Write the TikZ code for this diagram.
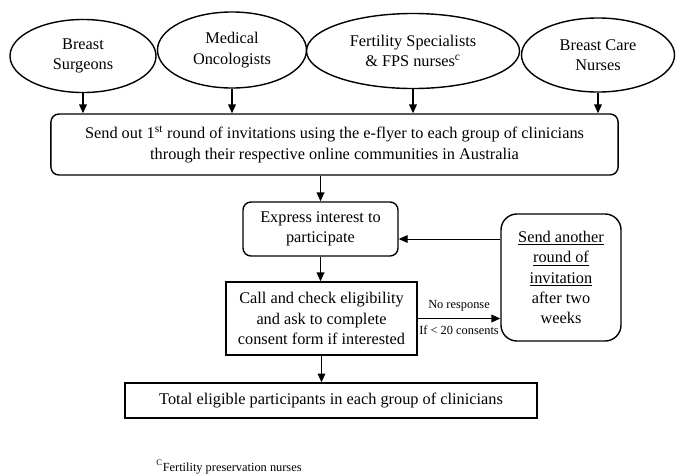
\documentclass[tikz,border=0pt]{standalone}
\usepackage{fontspec}
\setmainfont{Liberation Serif}
\usepackage{tikz}
\usetikzlibrary{arrows.meta, shapes.geometric}

\begin{document}
\begin{tikzpicture}[x=0.025cm, y=-0.025cm,
		every node/.style={font=\fontsize{11.6}{14.4}\selectfont, align=center, inner sep=0pt},
		group/.style={ellipse, draw=black, line width=1pt},
		stepbox/.style={rectangle, draw=black, line width=1pt},
		roundbox/.style={stepbox, rounded corners=0.2cm},
		flow/.style={-{Triangle[length=2.2mm, width=1.9mm]}, line width=1pt},
		small/.style={font=\fontsize{8.8}{10}\selectfont}]
			\useasboundingbox (0,0) rectangle (681,475);
			% Nodes
			\node[group, minimum width=3.65cm, minimum height=1.825cm] (bs) at (83,56) {Breast\\Surgeons};
			\node[group, minimum width=3.725cm, minimum height=1.9cm] (mo) at (232,50) {Medical\\Oncologists};
			\node[group, minimum width=5.325cm, minimum height=1.875cm] (fs) at (413,51) {Fertility Specialists\\\& FPS nurses\textsuperscript{c}};
			\node[group, minimum width=3.825cm, minimum height=1.85cm] (bc) at (598,55) {Breast Care\\Nurses};
			
			\node[roundbox, minimum width=14.175cm, minimum height=1.525cm] (send) at (334.5,144.5) {Send out 1\textsuperscript{st} round of invitations using the e-flyer to each group of clinicians\\through their respective online communities in Australia};
			\node[roundbox, minimum width=3.875cm, minimum height=1.35cm] (express) at (320.5,229) {Express interest to\\participate};
			\node[stepbox, minimum width=4.775cm, minimum height=1.825cm] (call) at (321.5,318.5) {Call and check eligibility\\and ask to complete\\consent form if interested};
			\node[roundbox, rounded corners=0.4cm, minimum width=3cm, minimum height=3.175cm] (again) at (561,277.5) {\underline{Send another}\\\underline{round of}\\\underline{invitation}\\after two\\weeks};
			\node[stepbox, minimum width=10.3cm, minimum height=0.875cm] (total) at (331,400.5) {Total eligible participants in each group of clinicians};
			
			\node[small, anchor=west] (note) at (156,467) {\textsuperscript{C}Fertility preservation nurses};
			
			% Edges
			\draw[flow] (bs.south) -- (bs.south |- send.north);
			\draw[flow] (mo.south) -- (mo.south |- send.north);
			\draw[flow] (fs.south) -- (fs.south |- send.north);
			\draw[flow] (bc.south) -- (bc.south |- send.north);
			
			\draw[flow] (express.north |- send.south) -- (express.north);
			\draw[flow] (express.south) -- (express.south |- call.north);
			\draw[flow] (call.south) -- (call.south |- total.north);
			
			\draw[flow] (call.east) -- (call.east -| again.west)
				node[small, midway, above=5pt] {No response}
				node[small, midway, below=5pt] {If < 20 consents};
			\draw[flow, line width=0.6pt] ([yshift=-0.25cm]express.east -| again.west) -- ([yshift=-0.25cm]express.east);
		\end{tikzpicture}
\end{document}
